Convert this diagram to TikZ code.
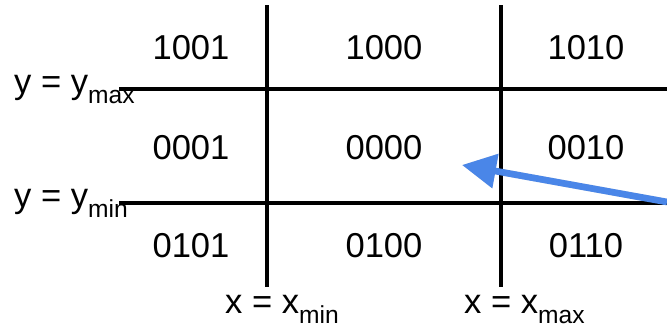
\documentclass[tikz,border=0pt]{standalone}
\usepackage{fontspec}
\setmainfont{Liberation Sans}
\usetikzlibrary{arrows.meta, positioning}

\newcommand\lowsub[1]{\raisebox{-0.3em}{\fontsize{21}{21}\selectfont #1}}

\begin{document}
\begin{tikzpicture}[
  x=0.03cm, y=-0.03cm,
  code/.style={font=\fontsize{29.5}{34}\selectfont, inner sep=0pt},
  bound/.style={font=\fontsize{29.5}{34}\selectfont, inner sep=0pt, anchor=base west},
  edge/.style={line width=3pt, line cap=butt},
  pointer/.style={-{Triangle[length=1.02cm, width=1cm]}, line width=0.2cm, draw={rgb,255:red,74;green,134;blue,232}},
  pshadow/.style={pointer, draw=black, opacity=0.12, shift={(2,3)}}
]
\useasboundingbox (0,0) rectangle (667,327);
% region codes
\node[code] (c1001) at (191,47.5) {1001};
\node[code] (c1000) at (384,47.5) {1000};
\node[code] (c1010) at (586,47.5) {1010};
\node[code] (c0001) at (191,147.5) {0001};
\node[code] (c0000) at (384,147.5) {0000};
\node[code] (c0010) at (586,147.5) {0010};
\node[code] (c0101) at (191,246) {0101};
\node[code] (c0100) at (384,246) {0100};
\node[code] (c0110) at (586,246) {0110};
% clipping window edges
\node[bound] (ymax) at (14,93) {y = y\lowsub{max}};
\node[bound] (ymin) at (14,207) {y = y\lowsub{min}};
\node[bound] (xmin) at (225,313) {x = x\lowsub{min}};
\node[bound] (xmax) at (464,313) {x = x\lowsub{max}};
\coordinate (ymaxl) at (119,89);
\coordinate (ymaxr) at (667,89);
\coordinate (yminl) at (119,203);
\coordinate (yminr) at (667,203);
\coordinate (xmint) at (267,5);
\coordinate (xminb) at (267,287);
\coordinate (xmaxt) at (501,5);
\coordinate (xmaxb) at (501,287);
\draw[edge] (ymaxl) -- (ymaxr);
\draw[edge] (yminl) -- (yminr);
\draw[edge] (xmint) -- (xminb);
\draw[edge] (xmaxt) -- (xmaxb);
% arrow into the window
\coordinate (tail) at (667,202);
\coordinate (head) at (462,165);
\draw[pshadow] (tail) -- (head);
\draw[pointer] (tail) -- (head);
\end{tikzpicture}
\end{document}
